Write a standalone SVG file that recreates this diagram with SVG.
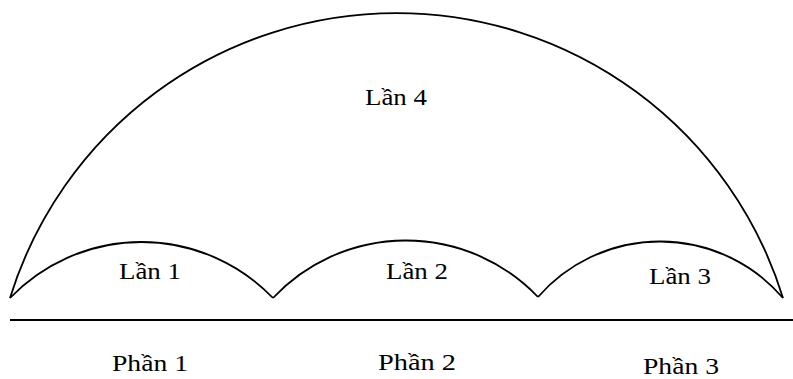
<svg xmlns="http://www.w3.org/2000/svg" width="793" height="379" viewBox="0 0 793 379">
<style>
.arc{fill:none;stroke:#000;stroke-width:1.8;stroke-linejoin:miter}
.t{font-family:"Liberation Serif","DejaVu Serif",serif;font-size:24px;fill:#000;text-anchor:middle}
</style>
<rect width="793" height="379" fill="#fff"/>
<g id="connectors">
<path id="big-arc" class="arc" d="M10,298 A404.6,404.6 0 0 1 783,298"/>
<path id="arc1" class="arc" d="M10,298 A182.4,182.4 0 0 1 273,298"/>
<path id="arc2" class="arc" d="M273,298 A182.5,182.5 0 0 1 538,297"/>
<path id="arc3" class="arc" d="M538,297 A162,162 0 0 1 783,298"/>
<line id="baseline" x1="10" y1="320" x2="793" y2="320" stroke="#000" stroke-width="2"/>
</g>
<g id="lan1"><text class="t" x="150" y="279" textLength="62" lengthAdjust="spacingAndGlyphs">Lần 1</text></g>
<g id="lan2"><text class="t" x="417" y="279" textLength="62" lengthAdjust="spacingAndGlyphs">Lần 2</text></g>
<g id="lan3"><text class="t" x="680" y="284" textLength="62" lengthAdjust="spacingAndGlyphs">Lần 3</text></g>
<g id="lan4"><text class="t" x="396" y="105" textLength="62" lengthAdjust="spacingAndGlyphs">Lần 4</text></g>
<g id="phan1"><text class="t" x="150" y="371" textLength="76" lengthAdjust="spacingAndGlyphs">Phần 1</text></g>
<g id="phan2"><text class="t" x="417" y="370" textLength="78" lengthAdjust="spacingAndGlyphs">Phần 2</text></g>
<g id="phan3"><text class="t" x="681" y="374" textLength="76" lengthAdjust="spacingAndGlyphs">Phần 3</text></g>
</svg>
